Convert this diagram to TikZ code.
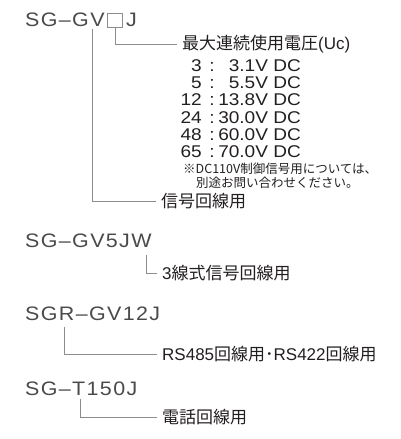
\documentclass[tikz,border=0pt]{standalone}
\usepackage{fontspec}
\setmainfont{Noto Sans CJK JP}
\newfontfamily\jp{Noto Sans CJK JP}
\newfontfamily\latw{Liberation Sans}[FakeStretch=1.1,LetterSpace=7]
\newfontfamily\latr{Liberation Sans}[FakeStretch=1.12]
\newfontfamily\latl{Liberation Sans}
\newcommand{\la}[1]{{\latl #1}}
\definecolor{txt}{HTML}{231F20}
\definecolor{pncol}{HTML}{4A4A4A}
\definecolor{linecol}{HTML}{8C8C8C}
\tikzset{
  pn/.style={anchor=base west, inner sep=0pt, text=pncol, font=\latw\fontsize{19.5}{20}\selectfont},
  lab/.style={anchor=west, inner xsep=5pt, inner ysep=0pt, text=txt, font=\jp\fontsize{17}{18}\selectfont},
  rowtxt/.style={inner sep=0pt, text=txt, font=\latr\fontsize{17}{18}\selectfont},
  note/.style={anchor=base west, inner sep=0pt, text=txt, font=\jp\fontsize{12.5}{14}\selectfont},
  conn/.style={draw=linecol, line width=0.8pt},
  slot/.style={draw=linecol, line width=0.8pt, minimum width=15pt, minimum height=14pt, inner sep=0pt}
}
\begin{document}
\begin{tikzpicture}[x=1pt,y=-1pt]
\useasboundingbox (0,0) rectangle (400,439);
% --- SG-GV?J
\node[pn] (pa) at (25,27) {SG–GV};
\node[slot] (box) at (115,20) {};
\node[pn] (pj) at (126,27) {J};
\coordinate (va) at (92,29);
\node[lab] (uc) at (177,44) {最大連続使用電圧\la{(Uc)}};
\draw[conn] (box.south) |- (uc.west);
% rows
\foreach \n/\v/\b [count=\i] in {3/3.1V DC/71, 5/5.5V DC/88, 12/13.8V DC/105.5, 24/30.0V DC/123, 48/60.0V DC/140, 65/70.0V DC/157}{
  \node[rowtxt, anchor=base east] (num\i) at (202,\b) {\n};
  \node[rowtxt, anchor=base] (col\i) at (212,\b) {:};
  \node[rowtxt, anchor=base east] (val\i) at (301,\b) {\v};
}
\node[note] (n1) at (183,173) {※DC110V制御信号用については、};
\node[note] (n2) at (196,187) {別途お問い合わせください。};
\node[lab] (sig) at (156,201) {信号回線用};
\draw[conn] (va) |- (sig.west);
% --- SG-GV5JW
\node[pn] (pb) at (25,247) {SG–GV5JW};
\coordinate (vb) at (146,255);
\node[lab] (three) at (157,273) {\la{3}線式信号回線用};
\draw[conn] (vb) |- (three.west);
% --- SGR-GV12J
\node[pn] (pc) at (25,320) {SGR–GV12J};
\coordinate (vc) at (64,327);
\node[lab] (rs) at (157,354) {\la{RS485}回線用･\la{RS422}回線用};
\draw[conn] (vc) |- (rs.west);
% --- SG-T150J
\node[pn] (pd) at (25,395) {SG–T150J};
\coordinate (vd) at (80,399);
\node[lab] (tel) at (157,417) {電話回線用};
\draw[conn] (vd) |- (tel.west);
\end{tikzpicture}
\end{document}
